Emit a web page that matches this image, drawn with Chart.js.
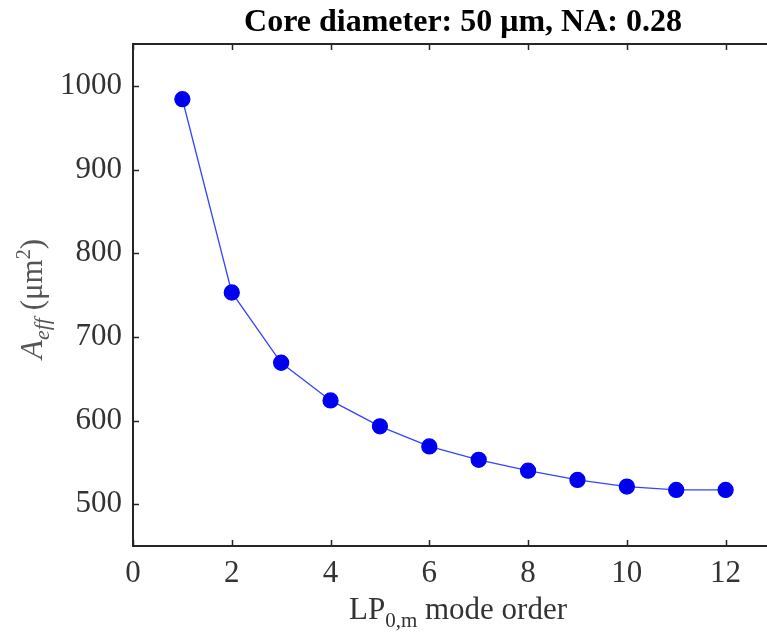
<!DOCTYPE html>
<html lang="en">
<head>
  <meta charset="UTF-8">
  <title>Core diameter: 50 μm, NA: 0.28</title>
  <script src="https://cdn.jsdelivr.net/npm/chart.js"></script>
  <style>
    * { margin: 0; padding: 0; box-sizing: border-box; }
    html, body { background: #fff; overflow: hidden; width: 767px; height: 634px; }
    .chart-wrap { position: relative; width: 800px; height: 634px; }
  </style>
</head>
<body>
  <div class="chart-wrap">
    <canvas id="aeffChart"></canvas>
  </div>

  <script>
    // values
    const modeOrder = [1, 2, 3, 4, 5, 6, 7, 8, 9, 10, 11, 12];
    const aeff = [984, 753, 669, 624, 593, 569, 553, 540, 529, 521, 517, 517];
    const xTicks = [0, 2, 4, 6, 8, 10, 12];
    const yTicks = [500, 600, 700, 800, 900, 1000];

    const titleText = 'Core diameter: 50 μm, NA: 0.28';
    const serif = "'Liberation Serif', 'Times New Roman', serif";
    const axisColor = '#262626';

    // frame, inward ticks, title and the axis titles with sub/superscripts
    const framePlugin = {
      id: 'frame',
      afterDraw(chart) {
        const { ctx, chartArea: a, scales: { x, y } } = chart;
        ctx.save();
        ctx.strokeStyle = axisColor;
        ctx.lineWidth = 2;
        ctx.beginPath();
        ctx.moveTo(a.right, a.top); ctx.lineTo(a.left, a.top);
        ctx.lineTo(a.left, a.bottom); ctx.lineTo(a.right, a.bottom);
        ctx.stroke();

        ctx.lineWidth = 1.5;
        ctx.beginPath();
        xTicks.forEach(v => {
          const px = Math.round(x.getPixelForValue(v)) + 0.5;
          ctx.moveTo(px, a.bottom); ctx.lineTo(px, a.bottom - 6);
          ctx.moveTo(px, a.top); ctx.lineTo(px, a.top + 6);
        });
        yTicks.forEach(v => {
          const py = Math.round(y.getPixelForValue(v)) + 0.5;
          ctx.moveTo(a.left, py); ctx.lineTo(a.left + 6, py);
        });
        ctx.stroke();

        // title
        ctx.fillStyle = '#000';
        ctx.font = 'bold 32px ' + serif;
        ctx.textAlign = 'center';
        ctx.textBaseline = 'alphabetic';
        ctx.fillText(titleText, 463, 31);

        // x axis title: LP_{0,m} mode order
        ctx.fillStyle = '#333';
        const big = '31px ' + serif, small = '21px ' + serif;
        ctx.font = big; const wLP = ctx.measureText('LP').width;
        const wRest = ctx.measureText(' mode order').width;
        ctx.font = small; const wSub = ctx.measureText('0,m').width;
        let sx = 458 - (wLP + wSub + wRest) / 2;
        const by = 619;
        ctx.textAlign = 'left';
        ctx.font = big; ctx.fillText('LP', sx, by); sx += wLP;
        ctx.font = small; ctx.fillText('0,m', sx, by + 8); sx += wSub;
        ctx.font = big; ctx.fillText(' mode order', sx, by);

        // y axis title: A_eff (μm²)
        ctx.translate(42, 299);
        ctx.rotate(-Math.PI / 2);
        ctx.fillStyle = '#555';
        const parts = [
          { t: 'A', f: 'italic 31px ' + serif, dy: 0 },
          { t: 'eff', f: 'italic 22px ' + serif, dy: 7 },
          { t: ' (μm', f: '31px ' + serif, dy: 0 },
          { t: '2', f: '20px ' + serif, dy: -12 },
          { t: ')', f: '31px ' + serif, dy: 0 }
        ];
        let total = 0;
        parts.forEach(p => { ctx.font = p.f; p.w = ctx.measureText(p.t).width; total += p.w; });
        let tx = -total / 2;
        parts.forEach(p => { ctx.font = p.f; ctx.fillText(p.t, tx, p.dy); tx += p.w; });
        ctx.restore();
      }
    };

    new Chart(document.getElementById('aeffChart'), {
      type: 'scatter',
      data: {
        datasets: [{
          data: modeOrder.map((m, i) => ({ x: m, y: aeff[i] })),
          showLine: true,
          borderColor: '#3344ff',
          borderWidth: 1.3,
          pointBackgroundColor: '#0000f0',
          pointBorderColor: '#0000f0',
          pointRadius: 7.5,
          pointHoverRadius: 7.5
        }]
      },
      options: {
        responsive: true,
        maintainAspectRatio: false,
        animation: false,
        layout: { padding: { left: 0, top: 44, right: 25, bottom: 0 } },
        plugins: { legend: { display: false }, tooltip: { enabled: false } },
        scales: {
          x: {
            type: 'linear',
            min: 0,
            max: 13,
            afterBuildTicks: s => { s.ticks = xTicks.map(v => ({ value: v })); },
            afterFit: s => { s.height = 88; },
            grid: { display: false, drawTicks: false },
            border: { display: false },
            ticks: { color: '#333', padding: 9, font: { family: serif, size: 31 }, callback: v => String(v) }
          },
          y: {
            min: 450,
            max: 1050,
            afterBuildTicks: s => { s.ticks = yTicks.map(v => ({ value: v })); },
            afterFit: s => { s.width = 133; },
            grid: { display: false, drawTicks: false },
            border: { display: false },
            ticks: { color: '#333', padding: 11, font: { family: serif, size: 31 }, callback: v => String(v) }
          }
        }
      },
      plugins: [framePlugin]
    });
  </script>
</body>
</html>
